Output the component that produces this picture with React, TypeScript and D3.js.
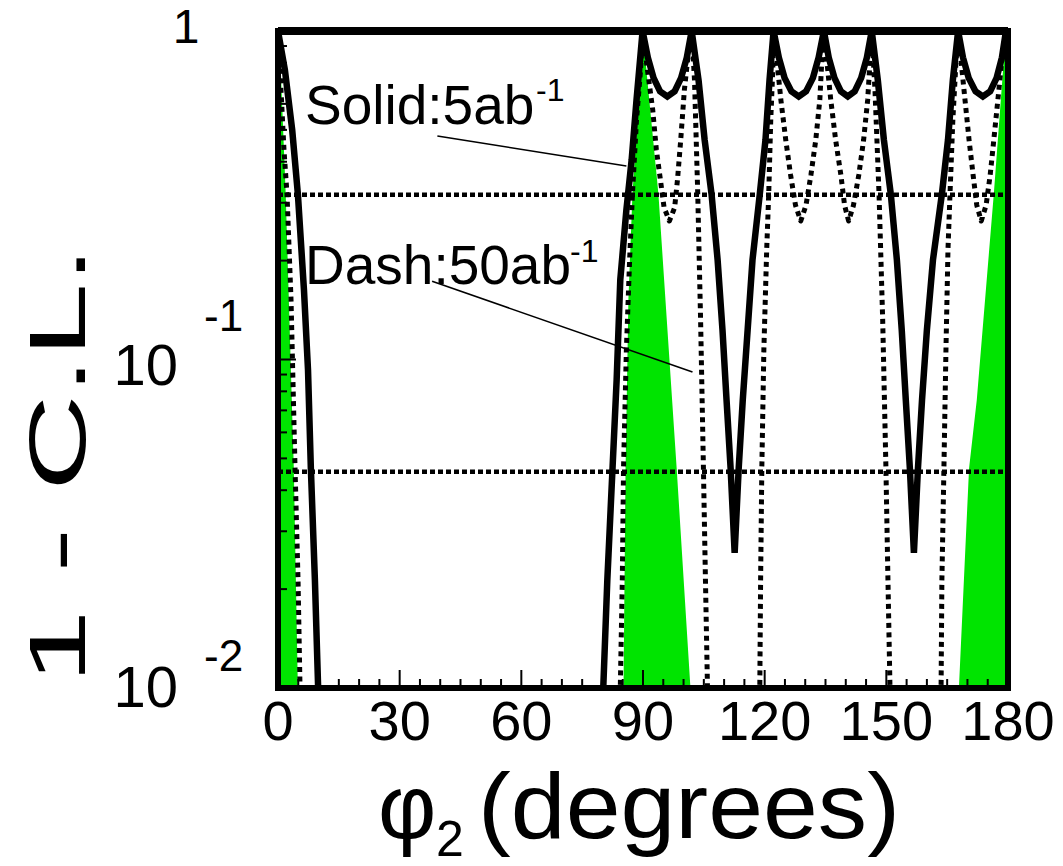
import React from "react";
import * as d3 from "d3";

// ---- data (phi2 in degrees, value = 1 - C.L.) ----
const solid5abA: [number, number][] = [
  [0, 1], [1.7, 0.761], [3.5, 0.5], [4.9, 0.319], [6.4, 0.163], [7.4, 0.093],
  [8.1, 0.0467], [9.1, 0.0213], [9.9, 0.01], [10.8, 0.005],
];
const solid5abB: [number, number][] = [
  [79.6, 0.006], [80.2, 0.01], [81.2, 0.0213], [82.5, 0.047], [83.5, 0.0866], [84.4, 0.175],
  [85.9, 0.285], [87.2, 0.405], [88.4, 0.617], [89.9, 1],
  [91.2, 0.83], [92.6, 0.72], [94.2, 0.655], [96.0, 0.632], [97.8, 0.655], [99.4, 0.72], [100.8, 0.83], [102.0, 1],
  [103.7, 0.709], [105.2, 0.466], [106.9, 0.319], [108.4, 0.201], [109.6, 0.123], [110.6, 0.0753], [111.6, 0.0467], [112.6, 0.0258],
  [113.6, 0.0467], [114.6, 0.0753], [115.8, 0.123], [117.0, 0.201], [118.8, 0.319], [120.2, 0.466], [121.2, 0.709], [122.2, 1],
  [123.5, 0.83], [124.9, 0.72], [126.6, 0.655], [128.4, 0.632], [130.2, 0.655], [131.9, 0.72], [133.3, 0.83], [134.6, 1],
  [135.8, 0.83], [137.2, 0.72], [138.8, 0.655], [140.5, 0.632], [142.2, 0.655], [143.8, 0.72], [145.2, 0.83], [146.4, 1],
  [147.9, 0.709], [149.4, 0.466], [151.1, 0.319], [152.6, 0.201], [153.8, 0.123], [154.8, 0.0753], [155.8, 0.0467], [156.8, 0.0258],
  [157.8, 0.0467], [158.8, 0.0753], [160.0, 0.123], [161.5, 0.201], [163.7, 0.319], [165.2, 0.466], [166.4, 0.709], [167.7, 1],
  [168.9, 0.83], [170.3, 0.72], [172.0, 0.655], [173.8, 0.632], [175.6, 0.655], [177.2, 0.72], [178.5, 0.83], [179.5, 1], [180, 0.96],
];

const dash50abA: [number, number][] = [
  [0, 1], [0.74, 0.661], [1.48, 0.434], [2.22, 0.319], [3.21, 0.152], [4.2, 0.0467],
  [4.94, 0.0213], [5.43, 0.01], [5.9, 0.005],
];
const dash50abB: [number, number][] = [
  [84.2, 0.006], [84.4, 0.01], [84.9, 0.0213], [85.2, 0.0467], [85.9, 0.107], [86.7, 0.201],
  [87.4, 0.319], [88.4, 0.536], [89.4, 0.761], [89.9, 1],
  [91.1, 0.761], [92.4, 0.575], [93.3, 0.434], [94.3, 0.352], [95.2, 0.29], [96.5, 0.264],
  [97.8, 0.29], [98.5, 0.352], [99.3, 0.466], [100.2, 0.661], [101.0, 0.816], [102.0, 1],
  [102.7, 0.709], [103.5, 0.319], [104.2, 0.132], [104.9, 0.0467], [105.4, 0.0213], [105.9, 0.01], [106.3, 0.006],
];
const dash50abC: [number, number][] = [
  [118.6, 0.006], [118.8, 0.01], [119.0, 0.0213], [119.3, 0.0467], [119.8, 0.107], [120.5, 0.216],
  [121.0, 0.319], [121.5, 0.536], [122.0, 0.761], [122.2, 1],
  [123.0, 0.816], [124.0, 0.617], [125.2, 0.466], [126.4, 0.364], [127.6, 0.295], [128.9, 0.264],
  [130.2, 0.295], [131.4, 0.364], [132.6, 0.466], [133.6, 0.617], [134.1, 0.816], [134.6, 1],
  [135.3, 0.816], [136.3, 0.617], [137.5, 0.466], [138.8, 0.364], [139.7, 0.295], [140.7, 0.264],
  [141.9, 0.295], [143.2, 0.364], [144.4, 0.466], [145.4, 0.617], [146.0, 0.816], [146.4, 1],
  [147.2, 0.661], [148.2, 0.319], [149.1, 0.132], [149.9, 0.0467], [150.4, 0.0213], [150.9, 0.01], [151.2, 0.006],
];
const dash50abD: [number, number][] = [
  [163.2, 0.006], [163.5, 0.01], [163.7, 0.0213], [164.2, 0.0467], [164.7, 0.107], [165.2, 0.216],
  [165.7, 0.319], [166.4, 0.536], [167.2, 0.816], [167.7, 1],
  [168.4, 0.816], [169.4, 0.617], [170.4, 0.466], [171.4, 0.364], [172.3, 0.295], [173.4, 0.264],
  [174.6, 0.295], [175.6, 0.364], [176.5, 0.466], [177.5, 0.617], [178.5, 0.816], [179.5, 1], [180, 0.9],
];

const greenBandA: [number, number][] = [
  [0, 1], [0.3, 1], [1.9, 0.319], [3.9, 0.0467], [4.9, 0.01], [5.2, 0.006], [0, 0.006],
];
const greenBandB: [number, number][] = [
  [89.9, 1], [88.6, 0.536], [87.4, 0.319], [86.4, 0.152], [85.7, 0.0467], [85.2, 0.01], [85.0, 0.006],
  [102.2, 0.006], [101.7, 0.01], [98.3, 0.0467], [93.8, 0.319], [89.9, 1],
];
const greenBandC: [number, number][] = [
  [179.5, 1], [180, 1], [180, 0.006], [167.5, 0.006], [167.9, 0.01], [170.4, 0.0467],
  [172.3, 0.0753], [176.5, 0.319], [179.5, 1],
];

const sigmaLevels = [0.3173, 0.0455];
const xTickLabels = [0, 30, 60, 90, 120, 150, 180];
const xMinorTicks = d3.range(0, 181, 5);
const yMajorTicks = [1, 0.1, 0.01];
const yPowerLabels: [number, string][] = [
  [0.1, "-1"],
  [0.01, "-2"],
];

const W = 1063;
const H = 866;
const FONT = "'Liberation Sans', Arial, Helvetica, sans-serif";

export default function App() {
  const x = d3.scaleLinear().domain([0, 180]).range([278, 1008]);
  const y = d3.scaleLog().domain([0.01, 1]).range([688, 31]);
  const [x0, x1] = x.range();
  const [y0, y1] = y.range(); // y0 bottom, y1 top

  const line = d3
    .line<[number, number]>()
    .x((d) => x(d[0]))
    .y((d) => y(d[1]));

  const minorY: number[] = [];
  for (const dec of [0.01, 0.1]) {
    for (let k = 2; k <= 9; k++) minorY.push(dec * k);
  }

  const solids = [solid5abA, solid5abB];
  const dashes = [dash50abA, dash50abB, dash50abC, dash50abD];
  const greens = [greenBandA, greenBandB, greenBandC];

  const ann1 = { from: [39.3, 0.479], to: [85.9, 0.388] };
  const ann2 = { from: [38.0, 0.173], to: [102.2, 0.0916] };

  return (
    <svg
      width={W}
      height={H}
      style={{ position: "absolute", left: 0, top: 0, background: "#fff" }}
      fontFamily={FONT}
    >
      <defs>
        <clipPath id="plotClip">
          <rect x={x0} y={y1} width={x1 - x0} height={y0 - y1} />
        </clipPath>
      </defs>

      <g clipPath="url(#plotClip)">
        {greens.map((g, i) => (
          <path key={"g" + i} d={line(g) + "Z"} fill="#00e400" stroke="none" />
        ))}
        {sigmaLevels.map((s, i) => (
          <line
            key={"s" + i}
            x1={x0}
            x2={x1}
            y1={y(s)}
            y2={y(s)}
            stroke="#000"
            strokeWidth={4.5}
            strokeDasharray="5 3"
          />
        ))}
        {dashes.map((d, i) => (
          <path
            key={"d" + i}
            d={line(d) || ""}
            fill="none"
            stroke="#000"
            strokeWidth={5}
            strokeDasharray="5 4.5"
            strokeLinejoin="round"
          />
        ))}
        {solids.map((d, i) => (
          <path
            key={"l" + i}
            d={line(d) || ""}
            fill="none"
            stroke="#000"
            strokeWidth={6.5}
            strokeLinejoin="miter"
            strokeMiterlimit={10}
          />
        ))}
      </g>

      {/* ticks */}
      {xMinorTicks.map((t) => (
        <line
          key={"xt" + t}
          x1={x(t)}
          x2={x(t)}
          y1={y0}
          y2={y0 - (t % 30 === 0 ? 18 : 9)}
          stroke="#000"
          strokeWidth={2}
        />
      ))}
      {minorY.map((t) => (
        <line key={"ym" + t} x1={x0} x2={x0 + 9} y1={y(t)} y2={y(t)} stroke="#000" strokeWidth={2} />
      ))}
      {yMajorTicks.map((t) => (
        <line key={"yM" + t} x1={x0} x2={x0 + 18} y1={y(t)} y2={y(t)} stroke="#000" strokeWidth={2} />
      ))}

      {/* frame */}
      <rect x={x0} y={y1} width={x1 - x0} height={y0 - y1} fill="none" stroke="#000" strokeWidth={6} />
      <line x1={x0} x2={x1} y1={y1} y2={y1} stroke="#000" strokeWidth={8} />

      {/* x tick labels */}
      {xTickLabels.map((t) => (
        <text key={"xl" + t} x={x(t)} y={740} fontSize={56} textAnchor="middle" fill="#000">
          {t}
        </text>
      ))}

      {/* y tick labels */}
      <text x={186} y={y(1) + 12} fontSize={48} textAnchor="middle" fill="#000">
        1
      </text>
      {yPowerLabels.map(([v, e], i) => (
        <g key={"yl" + e}>
          <text x={178} y={y(v) + (i === 0 ? 25 : 19)} fontSize={58} textAnchor="end" fill="#000">
            10
          </text>
          <text x={204} y={y(v) - (i === 0 ? 29 : 17)} fontSize={44} fill="#000">
            {e}
          </text>
        </g>
      ))}

      {/* axis titles */}
      <text
        transform="translate(85,465) rotate(-90)"
        fontSize={80}
        textAnchor="middle"
        textLength={438}
        lengthAdjust="spacingAndGlyphs"
        fill="#000"
      >
        1 - C.L.
      </text>
      <text x={378} y={838} fontSize={90} fill="#000">
        φ
      </text>
      <text x={436} y={856} fontSize={50} fill="#000">
        2
      </text>
      <text x={478} y={838} fontSize={92} textLength={422} lengthAdjust="spacingAndGlyphs" fill="#000">
        (degrees)
      </text>

      {/* annotations */}
      <text x={305} y={124} fontSize={55} fill="#000">
        Solid:5ab
      </text>
      <text x={536} y={101} fontSize={32} fill="#000">
        -1
      </text>
      <line
        x1={x(ann1.from[0])}
        y1={y(ann1.from[1])}
        x2={x(ann1.to[0])}
        y2={y(ann1.to[1])}
        stroke="#000"
        strokeWidth={1.6}
      />
      <text x={305} y={284} fontSize={55} fill="#000">
        Dash:50ab
      </text>
      <text x={570} y={262} fontSize={32} fill="#000">
        -1
      </text>
      <line
        x1={x(ann2.from[0])}
        y1={y(ann2.from[1])}
        x2={x(ann2.to[0])}
        y2={y(ann2.to[1])}
        stroke="#000"
        strokeWidth={1.6}
      />
    </svg>
  );
}
